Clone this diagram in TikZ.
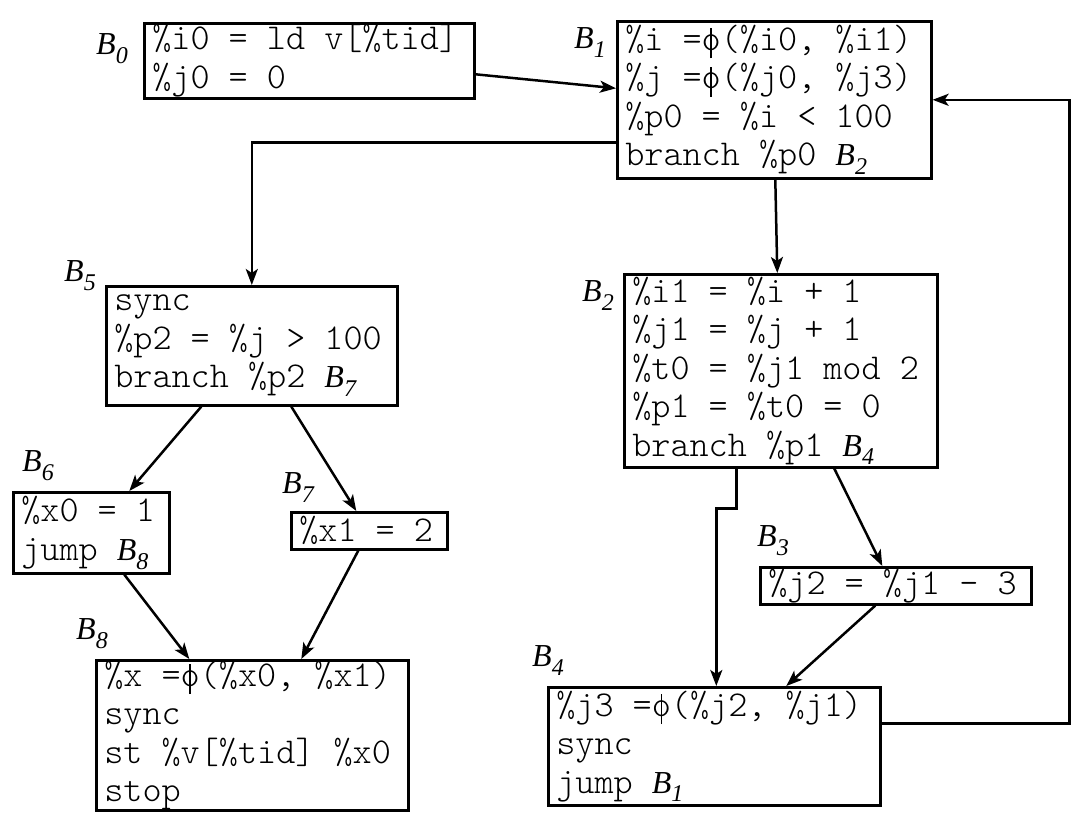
\documentclass[tikz,border=0pt]{standalone}
\usepackage{fontspec}
\setmonofont{Latin Modern Mono Light}
\newfontfamily\lblfont{Liberation Serif}
\usetikzlibrary{arrows.meta}
\newcommand\Bn[1]{{\lblfont\itshape\fontsize{32}{32}\selectfont B\raisebox{-0.28em}{\fontsize{24}{24}\selectfont #1}}}
\newcommand\ph{\makebox[19.1pt]{o}\llap{\makebox[19.1pt]{\rule[-8pt]{1.6pt}{30pt}}}}
\newcommand\SP{\hspace*{19.1pt}}
\newcommand\codefont{\ttfamily\fontsize{36.4}{38.5}\selectfont}
\tikzset{
  blk/.style={draw, line width=2.6pt, anchor=north west, align=left, inner xsep=8pt, inner ysep=0pt,
    font=\codefont},
  lbl/.style={inner sep=0pt},
  arr/.style={line width=2.5pt, -{Stealth[length=16pt, width=12pt, inset=4pt]}},
}
\begin{document}
\begin{tikzpicture}[x=1pt, y=-1pt]
\useasboundingbox (0,0) rectangle (1080,818);
% blocks
\node[blk, minimum width=330pt, text width=314pt, minimum height=75pt] (b0) at (143,22)
  {\%i0\SP=\SP ld\SP v[\%tid]\\\%j0\SP=\SP 0};
\node[blk, minimum width=314pt, text width=298pt, minimum height=157pt] (b1) at (616,20)
  {\%i\SP=\ph(\%i0,\SP\%i1)\\\%j\SP=\ph(\%j0,\SP\%j3)\\\%p0\SP=\SP\%i\SP<\SP 100\\branch\SP\%p0\SP\Bn{2}};
\node[blk, minimum width=313pt, text width=297pt, minimum height=193pt] (b2) at (623,273)
  {\%i1\SP=\SP\%i\SP+\SP 1\\\%j1\SP=\SP\%j\SP+\SP 1\\\%t0\SP=\SP\%j1\SP mod\SP 2\\\%p1\SP=\SP\%t0\SP=\SP 0\\branch\SP\%p1\SP\Bn{4}};
\node[blk, minimum width=271pt, text width=255pt, minimum height=37pt] (b3) at (759,566)
  {\%j2\SP=\SP\%j1\SP-\SP 3};
\node[blk, minimum width=332pt, text width=316pt, minimum height=118pt] (b4) at (547,686)
  {\%j3\SP=\ph(\%j2,\SP\%j1)\\sync\\jump\SP\Bn{1}};
\node[blk, minimum width=291pt, text width=275pt, minimum height=119pt] (b5) at (105,285)
  {sync\\\%p2\SP=\SP\%j\SP>\SP 100\\branch\SP\%p2\SP\Bn{7}};
\node[blk, minimum width=156pt, text width=140pt, minimum height=81pt] (b6) at (12,491)
  {\%x0\SP=\SP 1\\jump\SP\Bn{8}};
\node[blk, minimum width=156pt, text width=140pt, minimum height=37pt] (b7) at (290,511)
  {\%x1\SP=\SP 2};
\node[blk, minimum width=312pt, text width=296pt, minimum height=150pt] (b8) at (95,659)
  {\%x\SP=\ph(\%x0,\SP\%x1)\\sync\\st\SP\%v[\%tid]\SP\%x0\\stop};
% labels
\node[lbl] (l0) at (112,49) {\Bn{0}};
\node[lbl] (l1) at (590,43) {\Bn{1}};
\node[lbl] (l2) at (598,296) {\Bn{2}};
\node[lbl] (l3) at (773,541) {\Bn{3}};
\node[lbl] (l4) at (548,661) {\Bn{4}};
\node[lbl] (l5) at (80,276) {\Bn{5}};
\node[lbl] (l6) at (38,466) {\Bn{6}};
\node[lbl] (l7) at (298,488) {\Bn{7}};
\node[lbl] (l8) at (92,634) {\Bn{8}};
% edges
\draw[arr] ([yshift=-13.5pt]b0.east) -- ([yshift=11.5pt]b1.west);
\draw[arr] ([yshift=-42.5pt]b1.west) -| (b5.north);
\draw[arr] ([xshift=1pt]b1.south) -- ([xshift=-3.5pt]b2.north);
\draw[arr] ([yshift=23pt]b4.east) -- ++(188,0) |- (b1.east);
\draw[arr] ([xshift=-44.5pt]b2.south) -- ++(0,40) -- ++(-20,0) -- ([xshift=2pt]b4.north);
\draw[arr] ([xshift=53.5pt]b2.south) -- ([xshift=-13.5pt]b3.north);
\draw[arr] ([xshift=-20.5pt]b3.south) -- ([xshift=72pt]b4.north);
\draw[arr] ([xshift=-50.5pt]b5.south) -- ([xshift=38pt]b6.north);
\draw[arr] ([xshift=39.5pt]b5.south) -- ([xshift=-13pt]b7.north);
\draw[arr] ([xshift=33pt]b6.south) -- ([xshift=-63pt]b8.north);
\draw[arr] ([xshift=-11pt]b7.south) -- ([xshift=49pt]b8.north);
\end{tikzpicture}
\end{document}
